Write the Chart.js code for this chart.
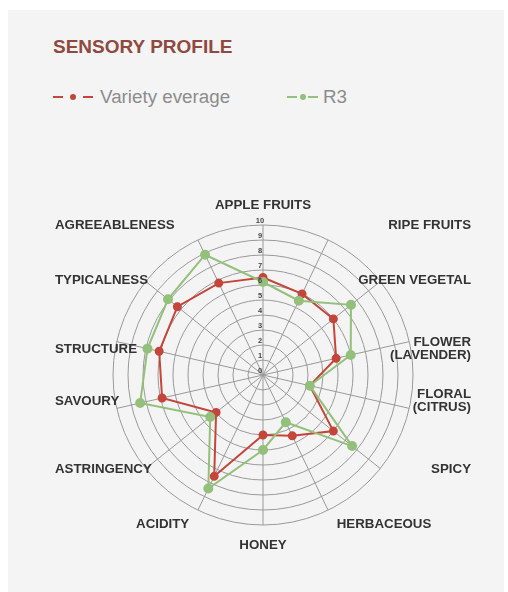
<!DOCTYPE html>
<html>
<head>
<meta charset="utf-8">
<script src="https://cdn.jsdelivr.net/npm/chart.js@4"></script>
<style>
  body { margin: 0; background: #fff; font-family: "Liberation Sans", Arial, sans-serif; }
  .card { position: absolute; left: 8px; top: 10px; width: 496px; height: 582px; background: #f4f4f4; }
  .title { position: absolute; left: 53px; top: 35px; font-size: 19px; font-weight: bold; color: #8f4a3f; line-height: 24px; }
  .legend { position: absolute; top: 86px; font-size: 18.8px; color: #8c8c8c; line-height: 22px; white-space: nowrap; }
  .mk { display: inline-block; position: relative; height: 22px; vertical-align: top; }
  .mk i { position: absolute; top: 10px; height: 2px; }
  .mk b { position: absolute; top: 8px; width: 6px; height: 6px; border-radius: 50%; }
  .mk.red { width: 40px; margin-right: 7px; }
  .mk.red i { width: 10px; }
  .mk.red b { left: 17px; }
  .mk.green { width: 31px; margin-right: 5px; }
  .mk.green i { width: 10px; }
  .mk.green b { left: 12.5px; }
  .mk i.l { left: 0; }
  .mk i.r { right: 0; }
  #wrap { position: absolute; left: 0; top: 180px; width: 508px; height: 412px; }
</style>
</head>
<body>
<div class="card"></div>
<div class="title">SENSORY PROFILE</div>
<div class="legend" style="left:53px"><span class="mk red"><i class="l" style="background:#c4463b"></i><b style="background:#c4463b"></b><i class="r" style="background:#c4463b"></i></span>Variety everage</div>
<div class="legend" style="left:287px"><span class="mk green"><i class="l" style="background:#93c07a"></i><b style="background:#93c07a"></b><i class="r" style="background:#93c07a"></i></span>R3</div>
<div id="wrap"><canvas id="radar"></canvas></div>
<script>
const categories = [
  ["APPLE FRUITS"], ["RIPE FRUITS"], ["GREEN VEGETAL"], ["FLOWER", "(LAVENDER)"],
  ["FLORAL", "(CITRUS)"], ["SPICY"], ["HERBACEOUS"], ["HONEY"], ["ACIDITY"],
  ["ASTRINGENCY"], ["SAVOURY"], ["STRUCTURE"], ["TYPICALNESS"], ["AGREEABLENESS"]
];
const varietyAverage = [6.5, 6.0, 6.0, 5.0, 3.2, 6.0, 4.5, 4.0, 7.5, 4.0, 6.9, 7.1, 7.3, 6.8];
const r3 = [6.2, 5.5, 7.5, 6.0, 3.2, 7.6, 3.5, 5.0, 8.4, 4.5, 8.4, 7.9, 8.1, 8.9];
const scaleMin = 0;
const scaleMax = 10;

const RED = "#c4463b";
const GREEN = "#93c07a";
const LABEL_LEFT = 55;
const LABEL_RIGHT = 471;
const LABEL_FONT = "bold 13.3px 'Liberation Sans', Arial, sans-serif";
const TICK_FONT = "bold 7.5px 'Liberation Sans', Arial, sans-serif";

// axis labels: sides pinned to the card margins, top/bottom follow the spokes
const axisLabels = {
  id: "axisLabels",
  afterDraw(chart) {
    const s = chart.scales.r;
    const ctx = chart.ctx;
    ctx.save();
    ctx.textBaseline = "middle";

    // tick numbers up the first spoke, including 0
    ctx.font = TICK_FONT;
    ctx.fillStyle = "#444";
    ctx.textAlign = "center";
    s.ticks.forEach(t => {
      const d = s.getDistanceFromCenterForValue(t.value);
      ctx.fillText(t.label, s.xCenter - 3, s.yCenter - d - 4);
    });

    ctx.font = LABEL_FONT;
    ctx.fillStyle = "#333";
    const D = s.drawingArea + 20;
    categories.forEach((lines, i) => {
      const a = s.getIndexAngle(i);
      const sin = Math.sin(a), cos = Math.cos(a);
      const p = s.getPointPosition(i, D);
      const y = s.yCenter - D * Math.sign(cos) * Math.pow(Math.abs(cos), 1.25);
      let x = p.x, align = "center";
      if (Math.abs(sin) < 0.01) {
        align = "center";
      } else if (cos < -0.8) {
        align = sin > 0 ? "left" : "right";
      } else if (sin > 0) {
        x = LABEL_RIGHT; align = "right";
      } else {
        x = LABEL_LEFT; align = "left";
      }
      ctx.textAlign = align;
      const lh = 13;
      const y0 = y - (lines.length - 1) * lh / 2;
      lines.forEach((t, k) => ctx.fillText(t, x, y0 + k * lh));
    });
    ctx.restore();
  }
};

new Chart(document.getElementById("radar"), {
  type: "radar",
  data: {
    labels: categories,
    datasets: [
      { label: "Variety everage", data: varietyAverage, borderColor: RED, backgroundColor: RED,
        pointBackgroundColor: RED, pointBorderColor: RED, borderWidth: 2, pointRadius: 3.5, fill: false, order: 1 },
      { label: "R3", data: r3, borderColor: GREEN, backgroundColor: GREEN,
        pointBackgroundColor: GREEN, pointBorderColor: GREEN, borderWidth: 2, pointRadius: 4, fill: false, order: 0 }
    ]
  },
  options: {
    responsive: true,
    maintainAspectRatio: false,
    animation: false,
    layout: { padding: { left: 113, right: 95, top: 45, bottom: 67 } },
    plugins: { legend: { display: false }, tooltip: { enabled: false } },
    elements: { line: { tension: 0 } },
    scales: {
      r: {
        min: scaleMin,
        max: scaleMax,
        ticks: { stepSize: 1, display: false },
        grid: { circular: true, color: "#999", lineWidth: 1 },
        angleLines: { color: "#999", lineWidth: 1 },
        pointLabels: { display: false }
      }
    }
  },
  plugins: [axisLabels]
});
</script>
</body>
</html>
